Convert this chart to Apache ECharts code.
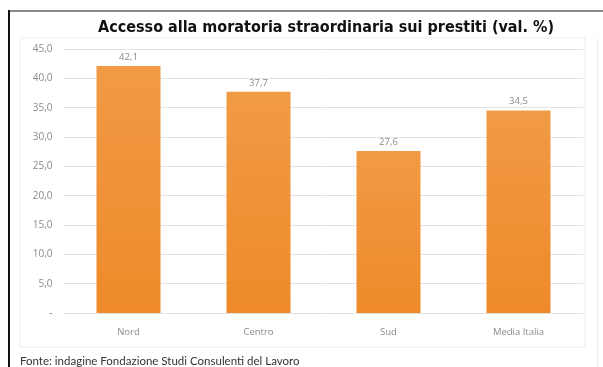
<!DOCTYPE html>
<html>
<head>
<meta charset="utf-8">
<script src="https://cdn.jsdelivr.net/npm/echarts@6/dist/echarts.min.js"></script>
<style>
  html, body { margin: 0; padding: 0; background: #fff; }
  #chart { width: 603px; height: 367px; }
</style>
</head>
<body>
<div id="chart"></div>
<script>
// Regional shares of businesses that used the extraordinary loan moratorium
const categories = ['Nord', 'Centro', 'Sud', 'Media Italia'];
const values = [42.1, 37.7, 27.6, 34.5];
const yTicks = { min: 0, max: 45, interval: 5 };

const fmt = v => v.toFixed(1).replace('.', ',');

const chart = echarts.init(document.getElementById('chart'), null, { renderer: 'canvas' });
chart.setOption({
  animation: false,
  backgroundColor: '#ffffff',
  title: {
    text: 'Accesso alla moratoria straordinaria sui prestiti (val. %)',
    left: 321,
    textAlign: 'center',
    top: 15,
    textStyle: {
      fontFamily: '"DejaVu Sans Condensed", "Liberation Sans", Arial, sans-serif',
      fontWeight: 'bold',
      fontSize: 16,
      color: '#111'
    }
  },
  graphic: [
    // page frame
    { type: 'rect', shape: { x: 8, y: 10, width: 600, height: 2 }, style: { fill: '#8a8a8a' }, silent: true },
    { type: 'rect', shape: { x: 8, y: 10, width: 2, height: 360 }, style: { fill: '#111' }, silent: true },
    { type: 'rect', shape: { x: 597, y: 38, width: 1, height: 329 }, style: { fill: '#ececec' }, silent: true },
    // inner chart box
    { type: 'rect', shape: { x: 20, y: 38, width: 565, height: 309 }, style: { fill: 'none', stroke: '#ececec', lineWidth: 1 }, silent: true },
    {
      type: 'text', left: 20, top: 355,
      style: {
        text: 'Fonte: indagine Fondazione Studi Consulenti del Lavoro',
        font: '11.5px Lato, "Open Sans", sans-serif',
        fill: '#333'
      }
    }
  ],
  grid: { left: 63.5, right: 19.5, top: 49, bottom: 54, containLabel: false },
  xAxis: {
    type: 'category',
    data: categories,
    axisLine: { show: false },
    axisTick: { show: false },
    axisLabel: {
      color: '#8a8a8a',
      fontSize: 9.5,
      fontFamily: '"Open Sans", sans-serif',
      margin: 14
    }
  },
  yAxis: {
    type: 'value',
    min: yTicks.min,
    max: yTicks.max,
    interval: yTicks.interval,
    axisLine: { show: false },
    axisTick: { show: false },
    axisLabel: {
      color: '#8a8a8a',
      fontSize: 10,
      fontFamily: '"Open Sans", sans-serif',
      margin: 11,
      formatter: v => (v === 0 ? '-' : fmt(v))
    },
    splitLine: { lineStyle: { color: '#e2e2e2', width: 1 } }
  },
  series: [{
    type: 'bar',
    data: values,
    barWidth: 64,
    itemStyle: {
      color: new echarts.graphic.LinearGradient(0, 0, 0, 1, [
        { offset: 0, color: '#F19A45' },
        { offset: 1, color: '#EE8A2A' }
      ])
    },
    label: {
      show: true,
      position: 'top',
      distance: 4,
      color: '#8a8a8a',
      fontSize: 9.5,
      fontFamily: '"Open Sans", sans-serif',
      formatter: p => fmt(p.value)
    }
  }]
});
</script>
</body>
</html>
